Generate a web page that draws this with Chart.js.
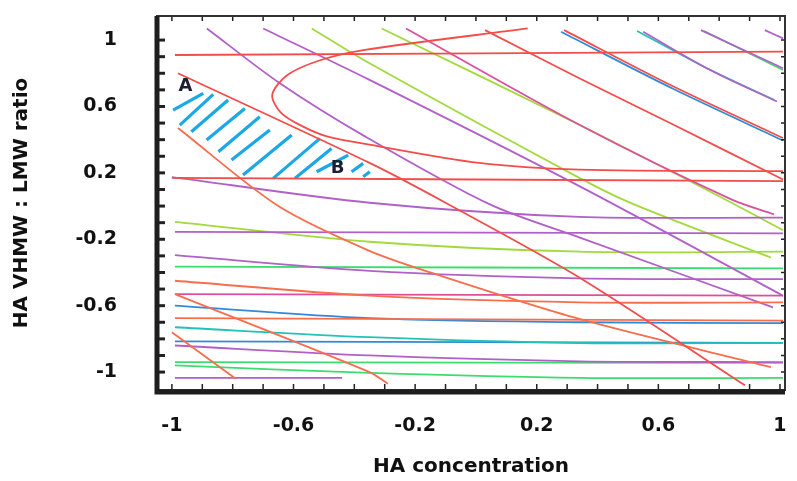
<!DOCTYPE html>
<html>
<head>
<meta charset="utf-8">
<script src="https://cdn.jsdelivr.net/npm/chart.js@4.4.1/dist/chart.umd.min.js"></script>
<style>
  html, body { margin: 0; padding: 0; background: #fff; }
  #wrap { width: 797px; height: 481px; position: relative; }
</style>
</head>
<body>
<div id="wrap"><canvas id="chart"></canvas></div>
<script>
// tick labels on both axes
const X_TICKS = [-1, -0.6, -0.2, 0.2, 0.6, 1];
const Y_TICKS = [-1, -0.6, -0.2, 0.2, 0.6, 1];

// contour lines, [x, y] in design units, grouped by colour
const RED_LINES = [
  [[-0.99, 0.91], [1.01, 0.93]],
  [[-1.0, 0.17], [1.01, 0.15]],
  [[0.17, 1.07], [-0.37, 0.94], [-0.51, 0.88], [-0.62, 0.79], [-0.67, 0.67], [-0.64, 0.56],
   [-0.57, 0.48], [-0.49, 0.42], [-0.35, 0.37], [0.01, 0.26], [0.34, 0.22], [1.01, 0.21]],
  [[0.03, 1.06], [0.34, 0.77], [0.65, 0.49], [1.01, 0.16]],
  [[-0.98, 0.80], [-0.35, 0.26], [-0.10, 0.02], [0.34, -0.43], [0.885, -1.08]],
  [[0.29, 1.06], [0.65, 0.72], [1.01, 0.41]],
];
const ORANGE_LINES = [
  [[-0.98, 0.47], [-0.65, 0.0], [-0.35, -0.27], [-0.15, -0.40], [0.34, -0.68], [0.97, -0.97]],
  [[-0.99, -0.53], [-0.35, -1.0], [-0.29, -1.07]],
  [[-1.0, -0.76], [-0.79, -1.04]],
  [[-0.99, -0.45], [-0.35, -0.54], [0.34, -0.58], [1.01, -0.58]],
  [[-0.99, -0.675], [1.01, -0.69]],
];
const PURPLE_LINES = [
  [[-0.885, 1.07], [-0.645, 0.74], [-0.365, 0.42], [0.046, 0.01], [0.342, -0.19], [0.977, -0.61]],
  [[-0.70, 1.07], [-0.35, 0.76], [0.34, 0.12], [1.01, -0.54]],
  [[-1.0, 0.175], [-0.35, 0.02], [0.34, -0.065], [1.01, -0.07]],
  [[-0.99, -0.155], [1.01, -0.165]],
  [[-0.99, -0.295], [-0.35, -0.39], [0.34, -0.435], [1.01, -0.44]],
  [[-0.99, -0.84], [-0.35, -0.90], [0.34, -0.935], [1.01, -0.94]],
  [[-0.99, -1.035], [-0.44, -1.035]],
  [[0.55, 1.05], [0.77, 0.82], [0.99, 0.63]],
  [[0.74, 1.06], [1.01, 0.83]],
  [[0.95, 1.06], [1.01, 1.01]],
];
const PINK_LINES = [
  [[-0.23, 1.07], [0.34, 0.49], [0.84, 0.04], [0.98, -0.05]],
  [[-0.99, -0.53], [1.01, -0.54]],
];
const YELLOW_GREEN_LINES = [
  [[-0.31, 1.07], [0.34, 0.49], [0.82, 0.04], [1.01, -0.145]],
  [[-0.54, 1.07], [-0.35, 0.86], [0.34, 0.17], [0.52, 0.01], [0.97, -0.31]],
  [[-0.99, -0.095], [-0.35, -0.215], [0.34, -0.275], [1.01, -0.275]],
];
const GREEN_LINES = [
  [[-0.99, -0.365], [1.01, -0.375]],
  [[-0.99, -0.94], [1.01, -0.945]],
  [[-0.99, -0.96], [-0.35, -1.005], [0.34, -1.035], [1.01, -1.035]],
  [[0.75, 1.055], [1.01, 0.82]],
];
const CYAN_LINES = [
  [[0.53, 1.055], [0.76, 0.83], [0.98, 0.64]],
  [[-0.99, -0.73], [-0.35, -0.79], [0.34, -0.825], [1.01, -0.825]],
];
const BLUE_LINES = [
  [[0.28, 1.05], [0.65, 0.705], [1.01, 0.395]],
  [[-0.99, -0.60], [-0.35, -0.675], [0.34, -0.70], [1.01, -0.705]],
  [[-0.99, -0.815], [1.01, -0.825]],
];

// hand drawn hatching between A and B
const HATCH_STROKES = [
  [[-0.996, 0.578], [-0.897, 0.679]],
  [[-0.974, 0.488], [-0.864, 0.673]],
  [[-0.936, 0.448], [-0.815, 0.639]],
  [[-0.886, 0.398], [-0.760, 0.588]],
  [[-0.847, 0.327], [-0.711, 0.538]],
  [[-0.804, 0.277], [-0.678, 0.458]],
  [[-0.766, 0.187], [-0.606, 0.428]],
  [[-0.667, 0.167], [-0.513, 0.408]],
  [[-0.595, 0.167], [-0.475, 0.347]],
  [[-0.524, 0.207], [-0.420, 0.307]],
  [[-0.409, 0.207], [-0.371, 0.257]],
  [[-0.371, 0.177], [-0.349, 0.207]],
];
const MARKS = [['A', -0.955, 0.72], ['B', -0.455, 0.225]];

const X_MIN = -1.049, X_MAX = 1.0165;
const Y_MIN = -1.108, Y_MAX = 1.145;
const FONT = "'DejaVu Sans', sans-serif";

function lineSet(points, color, width, tension){
  return {
    data: points.map(([x, y]) => ({x, y})),
    borderColor: color,
    borderWidth: width || 1.8,
    showLine: true,
    pointRadius: 0,
    fill: false,
    tension: tension == null ? 0.3 : tension,
  };
}

const GROUPS = [
  [RED_LINES, '#f24d4a'],
  [ORANGE_LINES, '#f86d4c'],
  [PINK_LINES, '#dc4f9c'],
  [PURPLE_LINES, '#b160c8'],
  [YELLOW_GREEN_LINES, '#a2da3e'],
  [GREEN_LINES, '#3ddc70'],
  [CYAN_LINES, '#22c3b6'],
  [BLUE_LINES, '#2f8bd9'],
];

const datasets = [];
GROUPS.forEach(([lines, color]) => lines.forEach(l => datasets.push(lineSet(l, color))));
HATCH_STROKES.forEach(s => datasets.push(lineSet(s, '#1ba8e4', 3.2, 0)));

const framePlugin = {
  id: 'frame',
  afterDatasetsDraw(chart){
    const {ctx, chartArea: a, scales: {x, y}} = chart;
    ctx.save();
    // letters A and B
    ctx.fillStyle = '#1b1f33';
    ctx.font = "bold 18px " + FONT;
    ctx.textAlign = 'center';
    ctx.textBaseline = 'middle';
    MARKS.forEach(([t, vx, vy]) => ctx.fillText(t, x.getPixelForValue(vx), y.getPixelForValue(vy)));

    // minor tick marks, inside the frame
    ctx.strokeStyle = '#222';
    for (let i = -10; i <= 10; i++) {
      const v = i / 10;
      const px = x.getPixelForValue(v), py = y.getPixelForValue(v);
      ctx.lineWidth = 1.5;
      ctx.beginPath();
      ctx.moveTo(px, a.top); ctx.lineTo(px, a.top + 5);
      ctx.moveTo(px, a.bottom); ctx.lineTo(px, a.bottom - 6);
      ctx.moveTo(a.right, py); ctx.lineTo(a.right - 4, py);
      ctx.stroke();
      ctx.lineWidth = 3;
      ctx.beginPath();
      ctx.moveTo(a.left, py); ctx.lineTo(a.left + 8, py);
      ctx.stroke();
    }
    // frame
    ctx.lineWidth = 2;
    ctx.strokeStyle = '#333';
    ctx.strokeRect(a.left, a.top, a.right - a.left, a.bottom - a.top);
    ctx.strokeStyle = '#1e1e1e';
    ctx.lineWidth = 5;
    ctx.beginPath();
    ctx.moveTo(a.left, a.top); ctx.lineTo(a.left, a.bottom + 2);
    ctx.lineTo(a.right, a.bottom + 2);
    ctx.stroke();
    ctx.restore();
  }
};

new Chart(document.getElementById('chart'), {
  type: 'scatter',
  data: { datasets },
  plugins: [framePlugin],
  options: {
    responsive: true,
    maintainAspectRatio: false,
    animation: false,
    layout: { padding: { top: 16, right: 12, left: 0, bottom: 0 } },
    plugins: { legend: { display: false }, tooltip: { enabled: false } },
    scales: {
      x: {
        type: 'linear', min: X_MIN, max: X_MAX,
        afterBuildTicks: s => { s.ticks = X_TICKS.map(v => ({value: v})); },
        afterFit: s => { s.height = 91; s.paddingLeft = 0; s.paddingRight = 0; },
        grid: { display: false }, border: { display: false },
        ticks: { color: '#111', padding: 17, autoSkip: false, maxRotation: 0,
                 font: { family: FONT, size: 19, weight: 'bold' }, callback: v => String(v) },
        title: { display: true, text: 'HA concentration', color: '#111',
                 font: { family: FONT, size: 20, weight: 'bold' }, padding: { top: 0, bottom: 2 } }
      },
      y: {
        type: 'linear', min: Y_MIN, max: Y_MAX,
        afterBuildTicks: s => { s.ticks = Y_TICKS.map(v => ({value: v})); },
        afterFit: s => { s.width = 157; s.paddingTop = 0; s.paddingBottom = 0; },
        grid: { display: false }, border: { display: false },
        ticks: { color: '#111', padding: 32, autoSkip: false,
                 font: { family: FONT, size: 19, weight: 'bold' }, callback: v => String(v) },
        title: { display: true, text: 'HA VHMW : LMW ratio', color: '#111',
                 font: { family: FONT, size: 20, weight: 'bold' }, padding: { top: 10, bottom: 0 } }
      }
    }
  }
});
</script>
</body>
</html>
